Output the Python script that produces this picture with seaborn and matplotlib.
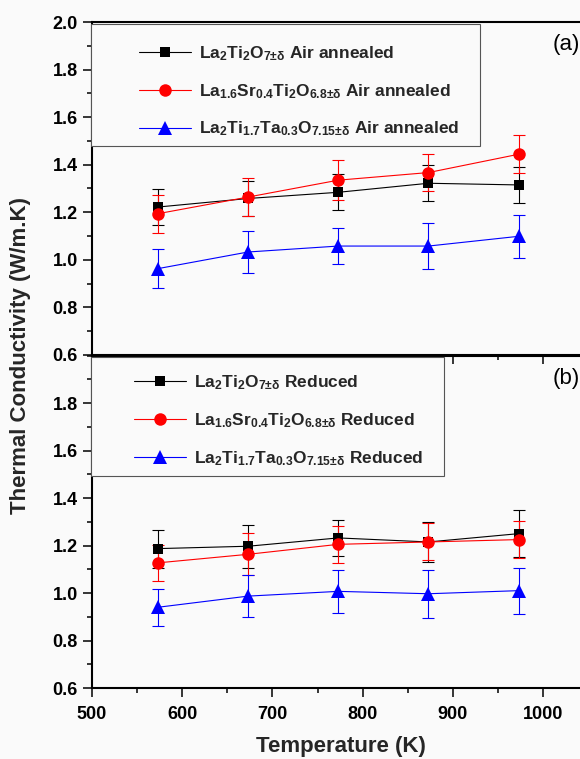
import numpy as np
import pandas as pd
import matplotlib
matplotlib.use('Agg')
import matplotlib.pyplot as plt
import seaborn as sns
from matplotlib.patches import Rectangle
from matplotlib.ticker import MultipleLocator

temps = [573, 673, 773, 873, 973]

air_la2 = [1.222, 1.258, 1.284, 1.322, 1.315]
air_la2_err = [0.075, 0.075, 0.075, 0.075, 0.075]
air_sr = [1.194, 1.264, 1.335, 1.367, 1.444]
air_sr_err = [0.080, 0.079, 0.084, 0.078, 0.079]
air_ta = [0.963, 1.033, 1.058, 1.058, 1.099]
air_ta_err = [0.082, 0.088, 0.076, 0.097, 0.090]

red_la2 = [1.187, 1.197, 1.232, 1.215, 1.250]
red_la2_err = [0.080, 0.090, 0.077, 0.085, 0.100]
red_sr = [1.127, 1.163, 1.205, 1.215, 1.225]
red_sr_err = [0.075, 0.088, 0.077, 0.078, 0.078]
red_ta = [0.940, 0.987, 1.007, 0.997, 1.010]
red_ta_err = [0.078, 0.088, 0.089, 0.102, 0.097]

formulas = [r'$La_{2}Ti_{2}O_{7{\pm}\delta}$',
            r'$La_{1.6}Sr_{0.4}Ti_{2}O_{6.8{\pm}\delta}$',
            r'$La_{2}Ti_{1.7}Ta_{0.3}O_{7.15{\pm}\delta}$']

sns.set_theme(style='ticks')
bg = '#fafafa'
plt.rcParams['font.family'] = ['Liberation Sans', 'DejaVu Sans']
plt.rcParams['mathtext.fontset'] = 'custom'
plt.rcParams['mathtext.bf'] = 'Liberation Sans:bold'
plt.rcParams['mathtext.rm'] = 'Liberation Sans:bold'
plt.rcParams['mathtext.default'] = 'bf'

colors = ['black', '#ff0000', '#0000ff']
markers = ['s', 'o', '^']
msizes = [7.5, 9, 10.5]

fig = plt.figure(figsize=(5.8, 7.59), dpi=100, facecolor=bg)
ax_a = fig.add_axes([0.1586, 0.5323, 0.8414, 0.4387], facecolor=bg)
ax_b = fig.add_axes([0.1586, 0.0935, 0.8414, 0.4381], facecolor='none')

panels = [
    (ax_a, [air_la2, air_sr, air_ta], [air_la2_err, air_sr_err, air_ta_err],
     'Air annealed', '(a)', (0.078, 0.792), (0.797, 0.628, 0.366)),
    (ax_b, [red_la2, red_sr, red_ta], [red_la2_err, red_sr_err, red_ta_err],
     'Reduced', '(b)', (0.069, 0.805), (0.723, 0.6376, 0.357)),
]

for ax, series, errs, cond, tag, leg_anchor, box in panels:
    for vals, err, c, m, ms, f in zip(series, errs, colors, markers, msizes, formulas):
        df = pd.DataFrame({'T': temps, 'k': vals})
        sns.lineplot(data=df, x='T', y='k', ax=ax, color=c, marker=m, markersize=ms,
                     markeredgewidth=0, linewidth=0.8, label=f + ' ' + cond,
                     legend=False, errorbar=None)
        ax.errorbar(temps, vals, yerr=err, fmt='none', ecolor=c, elinewidth=0.8,
                    capsize=4, capthick=0.8, zorder=1.5)

    ax.set_xlim(500, 1041)
    ax.set_ylim(0.6, 2.0)
    ax.xaxis.set_major_locator(MultipleLocator(100))
    ax.xaxis.set_minor_locator(MultipleLocator(50))
    ax.yaxis.set_minor_locator(MultipleLocator(0.1))
    ax.set_xlabel('')
    ax.set_ylabel('')
    for s in ['left', 'bottom', 'top']:
        ax.spines[s].set_linewidth(1.5)
        ax.spines[s].set_color('black')
    ax.spines['right'].set_visible(False)
    ax.tick_params(which='major', direction='out', length=6.5, width=1.1,
                   labelsize=13, colors='black', pad=3.6)
    ax.tick_params(which='minor', direction='out', length=3.3, width=1.1, colors='black')
    ax.tick_params(axis='x', which='major', pad=6.5)
    ax.tick_params(top=False, right=False, which='both')

    ax.add_patch(Rectangle((-0.002, box[1]), box[0], box[2], transform=ax.transAxes,
                           facecolor=bg, edgecolor='#555555', linewidth=0.8,
                           clip_on=False, zorder=4))
    ax.legend(loc='center left', bbox_to_anchor=leg_anchor, frameon=False,
              borderpad=0, handlelength=3.0, handletextpad=0.45, labelspacing=1.1,
              prop={'family': 'Liberation Sans', 'weight': 'bold', 'size': 12.5})
    ax.get_legend().set_zorder(5)
    ax.text(0.943, 0.931, tag, transform=ax.transAxes, fontsize=16,
            ha='left', va='center', color='black')

ax_a.set_yticks(np.arange(0.6, 2.01, 0.2))
ax_a.tick_params(axis='x', labelbottom=False)
ax_a.set_yticklabels(['%.1f' % v for v in np.arange(0.6, 2.01, 0.2)], fontweight='bold')
ax_b.set_yticks(np.arange(0.6, 1.81, 0.2))
ax_b.set_yticklabels(['%.1f' % v for v in np.arange(0.6, 1.81, 0.2)], fontweight='bold')
ax_b.set_xticks([500, 600, 700, 800, 900, 1000])
ax_b.set_xticklabels(['500', '600', '700', '800', '900', '1000'], fontweight='bold')

fig.text(0.036, 0.532, 'Thermal Conductivity (W/m.K)', rotation=90, ha='center',
         va='center', fontsize=16, fontweight='bold')
fig.text(0.587, 0.016, 'Temperature (K)', ha='center', va='center',
         fontsize=16, fontweight='bold')

fig.savefig('out.png', dpi=100, facecolor=bg)
